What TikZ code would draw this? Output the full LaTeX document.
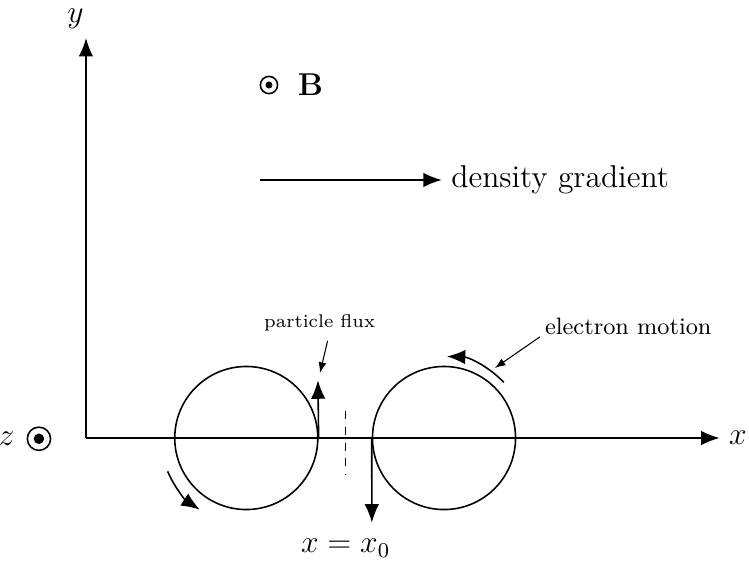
\documentclass[tikz,border=0pt]{standalone}
\usetikzlibrary{arrows.meta,positioning}

\begin{document}
\begin{tikzpicture}[>={Latex[length=7pt,width=5.5pt]}, line width=0.6pt,
    pointer/.style={-{Latex[length=4pt,width=3pt]}, line width=0.4pt},
    orbit/.style={draw, circle, minimum size=1.91cm, inner sep=0pt},
    outof/.style={draw, circle, inner sep=0pt}]
  \useasboundingbox (-1.148,-1.722) rectangle (8.852,5.848);
  % axes
  \coordinate (O) at (0,0);
  \coordinate (xend) at (8.46,0);
  \coordinate (yend) at (0,5.34);
  \draw[->] (O) -- (xend) node[right, font=\large] {$x$};
  \draw[->] (O) -- (yend) node[above, xshift=-4pt, font=\large] {$y$};
  \node (zdot) [outof, minimum size=0.31cm] at (-0.628,-0.01) {};
  \fill (zdot.center) circle (0.07);
  \node (zlabel) [left=1pt of zdot, font=\large] {$z$};
  % field and gradient
  \node (bdot) [outof, minimum size=0.23cm] at (2.443,4.713) {};
  \fill (bdot.center) circle (0.047);
  \node (blabel) [font=\large] at (2.997,4.713) {$\mathbf{B}$};
  \coordinate (gradstart) at (2.32,3.445);
  \node (gradlabel) [anchor=west, font=\large] at (4.75,3.445) {density gradient};
  \draw[->] (gradstart) -- (gradlabel.west);
  % gyro-orbits
  \node (left) [orbit] at (2.14,0) {};
  \node (right) [orbit] at (4.78,0) {};
  \coordinate (fluxtop) at (3.097,0.77);
  \coordinate (fluxbottom) at (3.817,-1.13);
  \draw[->] (left.east) -- (fluxtop);
  \draw[->] (right.west) -- (fluxbottom);
  \draw[dashed] (3.467,0.36) -- (3.467,-0.49);
  \node (xzero) [font=\large] at (3.467,-1.47) {$x = x_0$};
  % sense of rotation
  \draw[->] ([shift={(203:1.14)}]left.center) arc (203:237:1.14);
  \draw[->] ([shift={(43:1.09)}]right.center) arc (43:88:1.09);
  % labels
  \node (fluxlabel) [font=\scriptsize] at (3.12,1.535) {particle flux};
  \coordinate (fluxpoint) at (3.124,0.87);
  \draw[pointer] ([xshift=3pt]fluxlabel.south) -- (fluxpoint);
  \node (elabel) [font=\small] at (7.24,1.495) {electron motion};
  \coordinate (epoint) at (5.46,0.935);
  \draw[pointer] (6.06,1.35) -- (epoint);
\end{tikzpicture}
\end{document}
